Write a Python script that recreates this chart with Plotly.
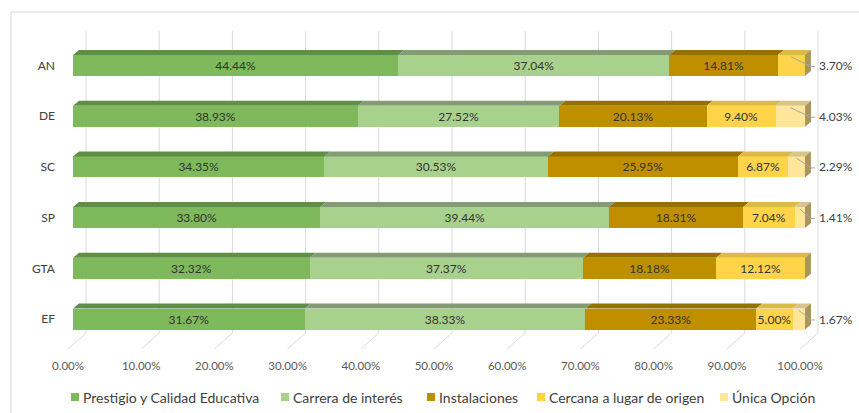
import plotly.graph_objects as go

categories = ["AN", "DE", "SC", "SP", "GTA", "EF"]
series_names = ["Prestigio y Calidad Educativa", "Carrera de interés", "Instalaciones",
                "Cercana a lugar de origen", "Única Opción"]
prestigio = [44.44, 38.93, 34.35, 33.80, 32.32, 31.67]
carrera = [37.04, 27.52, 30.53, 39.44, 37.37, 38.33]
instalaciones = [14.81, 20.13, 25.95, 18.31, 18.18, 23.33]
cercana = [3.70, 9.40, 6.87, 7.04, 12.12, 5.00]
unica = [0.0, 4.03, 2.29, 1.41, 0.0, 1.67]
tick_values = [0, 10, 20, 30, 40, 50, 60, 70, 80, 90, 100]
tick_labels = ["0.00%", "10.00%", "20.00%", "30.00%", "40.00%", "50.00%",
               "60.00%", "70.00%", "80.00%", "90.00%", "100.00%"]

series = [prestigio, carrera, instalaciones, cercana, unica]
front = ["#7EBA5B", "#A9D18E", "#BF8F00", "#FFD44A", "#FFE699"]
topc = ["#5F8F45", "#849C74", "#977000", "#DDB947", "#D9C48B"]
side = "#A8965C"
FONT = "Lato"

# pixel mapping helpers (layout geometry)
W, H = 859, 413
L, R, T, B = 60, 858, 30, 335
X0PX, PXU = 73.0, 7.32       # px of value 0, px per unit
Y0PX, PYU = 65.5, 50.7       # px of first category, px per category


def ux(px):
    return (px - X0PX) / PXU


def uy(py):
    return (py - Y0PX) / PYU


def pxp(px):
    return (px - L) / (R - L)


def pyp(py):
    return (B - py) / (B - T)


ypos = list(range(len(categories)))
bw = 21 / PYU
dx = 6 / PXU
dy = 5 / PYU
threshold = 4.5

fig = go.Figure()
shapes = []
annotations = []

# frame
shapes.append(dict(type="rect", xref="paper", yref="paper", x0=pxp(11), x1=pxp(875),
                   y0=pyp(12), y1=pyp(430), line=dict(color="#D9D9D9", width=1),
                   fillcolor="rgba(0,0,0,0)", layer="below"))

# back-wall gridlines with floor diagonals
goff = ux(86)
for v in tick_values:
    gx = v + goff
    shapes.append(dict(type="line", xref="x", yref="paper", x0=gx, x1=gx,
                       y0=pyp(31), y1=pyp(333), line=dict(color="#D9D9D9", width=1), layer="below"))
    shapes.append(dict(type="line", xref="x", yref="paper", x0=gx, x1=gx - 18 / PXU,
                       y0=pyp(333), y1=pyp(349), line=dict(color="#D9D9D9", width=1), layer="below"))

for j, (name, vals) in enumerate(zip(series_names, series)):
    texts = [f"{v:.2f}%" if v >= threshold else "" for v in vals]
    fig.add_trace(go.Bar(
        y=ypos, x=vals, orientation="h", name=name, width=bw,
        marker=dict(color=front[j], line=dict(width=0)),
        text=texts, textposition="inside", insidetextanchor="middle",
        textangle=0, constraintext="none",
        textfont=dict(family=FONT, size=12, color="#333333"),
        showlegend=False,
    ))

# 3D top faces, side faces, outside labels
for i in ypos:
    start = 0.0
    last = None
    ytop = i - bw / 2
    ybot = i + bw / 2
    for j, vals in enumerate(series):
        v = vals[i]
        if v <= 0:
            continue
        s, e = start, start + v
        shapes.append(dict(type="path", xref="x", yref="y",
                           path=f"M{s},{ytop} L{e},{ytop} L{e+dx},{ytop-dy} L{s+dx},{ytop-dy} Z",
                           fillcolor=topc[j], line=dict(width=0)))
        last = (j, s, e, v)
        start = e
    j, s, e, v = last
    shapes.append(dict(type="path", xref="x", yref="y",
                       path=f"M{e},{ytop} L{e+dx},{ytop-dy} L{e+dx},{ybot-dy} L{e},{ybot} Z",
                       fillcolor=side, line=dict(width=0)))
    if v < threshold:
        mid = s + v / 2
        shapes.append(dict(type="path", xref="x", yref="y",
                           path=f"M{mid},{i-0.17} L{ux(811)},{i+0.02} L{ux(815)},{i+0.02}",
                           line=dict(color="#A6A6A6", width=1)))
        annotations.append(dict(x=ux(817), y=i, xref="x", yref="y", xanchor="left",
                                yanchor="middle", text=f"{v:.2f}%", showarrow=False,
                                font=dict(family=FONT, size=12, color="#404040")))

# legend (manual, Excel-like small squares)
leg_text_x = [82, 292, 438, 548, 731]
for j, name in enumerate(series_names):
    x = leg_text_x[j]
    shapes.append(dict(type="rect", xref="paper", yref="paper",
                       x0=pxp(x - 11), x1=pxp(x - 3), y0=pyp(393), y1=pyp(401),
                       fillcolor=front[j], line=dict(width=0)))
    annotations.append(dict(x=pxp(x - 1), y=pyp(397), xref="paper", yref="paper",
                            xanchor="left", yanchor="middle", text=name, showarrow=False,
                            font=dict(family=FONT, size=14, color="#404040")))

fig.update_layout(
    width=W, height=H, barmode="stack",
    margin=dict(l=L, r=W - R, t=T, b=H - B, pad=0),
    paper_bgcolor="white", plot_bgcolor="white",
    shapes=shapes, annotations=annotations, showlegend=False,
    xaxis=dict(range=[ux(L), ux(R)], tickvals=tick_values, ticktext=tick_labels,
               showgrid=False, zeroline=False, showline=False, ticks="",
               ticklabelshift=-5, ticklabelstandoff=22,
               tickfont=dict(family=FONT, size=11.5, color="#595959")),
    yaxis=dict(range=[uy(B), uy(T)], tickvals=ypos, ticktext=categories,
               showgrid=False, zeroline=False, showline=False, ticks="",
               ticklabelstandoff=4,
               tickfont=dict(family=FONT, size=12, color="#404040")),
)

fig.write_html("out.html", config={"displayModeBar": False},
               post_script="document.body.style.margin='0px';document.body.style.overflow='hidden';")
